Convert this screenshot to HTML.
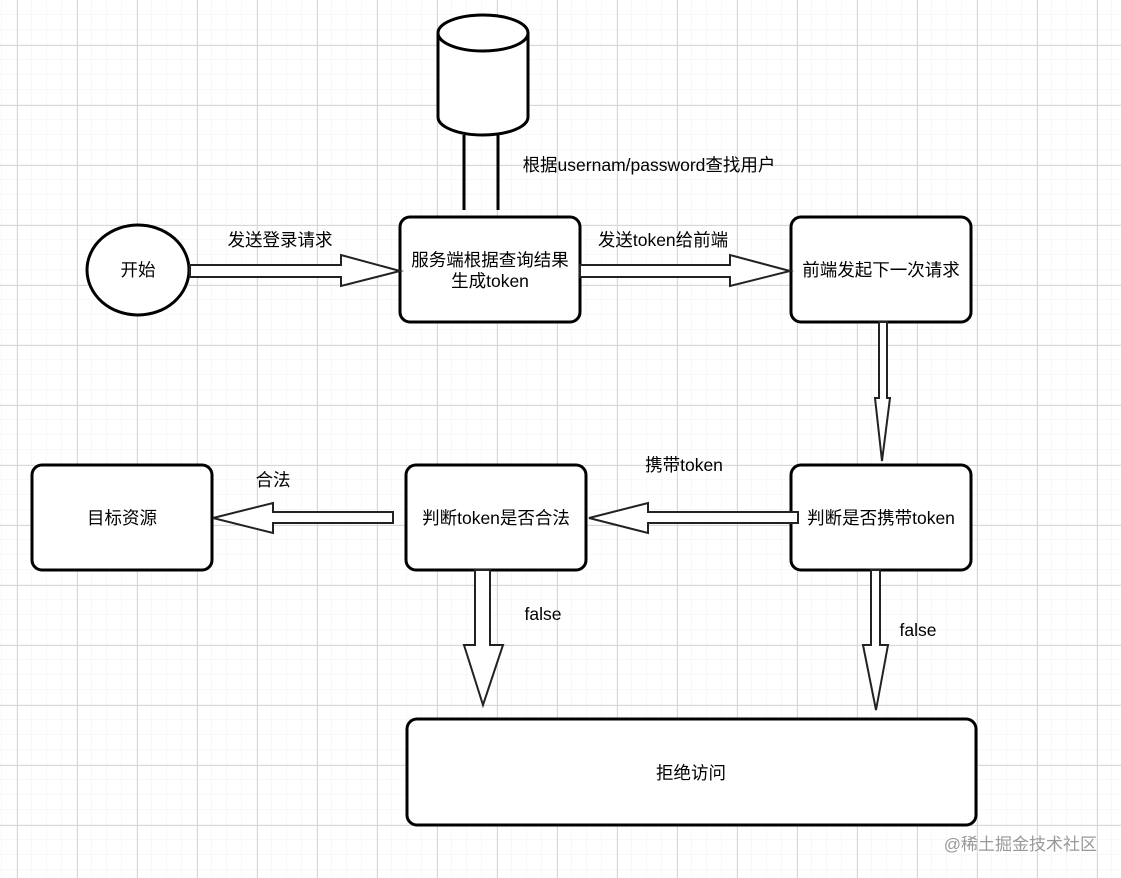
<!DOCTYPE html>
<html><head><meta charset="utf-8"><style>
html,body{margin:0;padding:0;background:#fff}
body{width:1121px;height:878px;overflow:hidden;position:relative;font-family:"Liberation Sans","Noto Sans CJK SC",sans-serif}
svg{position:absolute;left:0;top:0}
</style></head><body>
<svg width="1121" height="878" viewBox="0 0 1121 878" font-family="Liberation Sans, Noto Sans CJK SC, sans-serif" font-size="17.5">
<defs>
<pattern id="minor" x="2" y="0" width="15" height="15" patternUnits="userSpaceOnUse"><path d="M15 0V15M0 15H15" stroke="#f0f0f0" stroke-width="1" fill="none"/></pattern>
<pattern id="major" x="17" y="45" width="60" height="60" patternUnits="userSpaceOnUse"><path d="M0.5 0V60M0 0.5H60" stroke="#d8d8d8" stroke-width="1" fill="none"/></pattern>
</defs>
<rect width="1121" height="878" fill="url(#minor)"/>
<rect width="1121" height="878" fill="url(#major)"/>
<g stroke="#000" stroke-width="3" fill="#fff">
<path d="M438 33 V117 A45 18 0 0 0 528 117 V33 A45 18 0 0 0 438 33 Z"/>
<path d="M438 33 A45 18 0 0 0 528 33" fill="none"/>
<line x1="464" y1="135" x2="464" y2="210"/>
<line x1="498" y1="135" x2="498" y2="210"/>
<ellipse cx="138" cy="270" rx="51" ry="45"/>
<rect x="400" y="217" width="180" height="105" rx="10"/>
<rect x="791" y="217" width="180" height="105" rx="10"/>
<rect x="791" y="465" width="180" height="105" rx="10"/>
<rect x="406" y="465" width="180" height="105" rx="10"/>
<rect x="32" y="465" width="180" height="105" rx="10"/>
<rect x="407" y="719" width="569" height="106" rx="10"/>
</g>
<g stroke="#222" stroke-width="2" fill="#fff" stroke-linejoin="miter">
<polygon points="190,265 341,265 341,255 400,271 341,286 341,277 190,277"/>
<polygon points="580,265 730,265 730,255 790,271 730,286 730,277 580,277"/>
<polygon points="879,322 887,322 887,398 890,398 882,461 875,398 879,398"/>
<polygon points="798,512 648,512 648,503 589,518 648,533 648,523 798,523"/>
<polygon points="393,512 273,512 273,503 213,518 273,533 273,523 393,523"/>
<polygon points="475,570 490,570 490,645 503,645 483,705 464,645 475,645"/>
<polygon points="871,570 880,570 880,645 888,645 876,710 863,645 871,645"/>
</g>
<g fill="#000" text-anchor="middle">
<text x="138" y="276">开始</text>
<text x="490" y="266">服务端根据查询结果</text>
<text x="490" y="287">生成token</text>
<text x="881" y="276">前端发起下一次请求</text>
<text x="881" y="524">判断是否携带token</text>
<text x="496" y="524">判断token是否合法</text>
<text x="122" y="524">目标资源</text>
<text x="691" y="779">拒绝访问</text>
<text x="280" y="246">发送登录请求</text>
<text x="663" y="246">发送token给前端</text>
<text x="649" y="171">根据usernam/password查找用户</text>
<text x="684" y="471">携带token</text>
<text x="273" y="486">合法</text>
<text x="543" y="620">false</text>
<text x="918" y="636">false</text>
</g>
<text x="1097" y="850" text-anchor="end" fill="#999" font-size="17">@稀土掘金技术社区</text>
</svg>
</body></html>
